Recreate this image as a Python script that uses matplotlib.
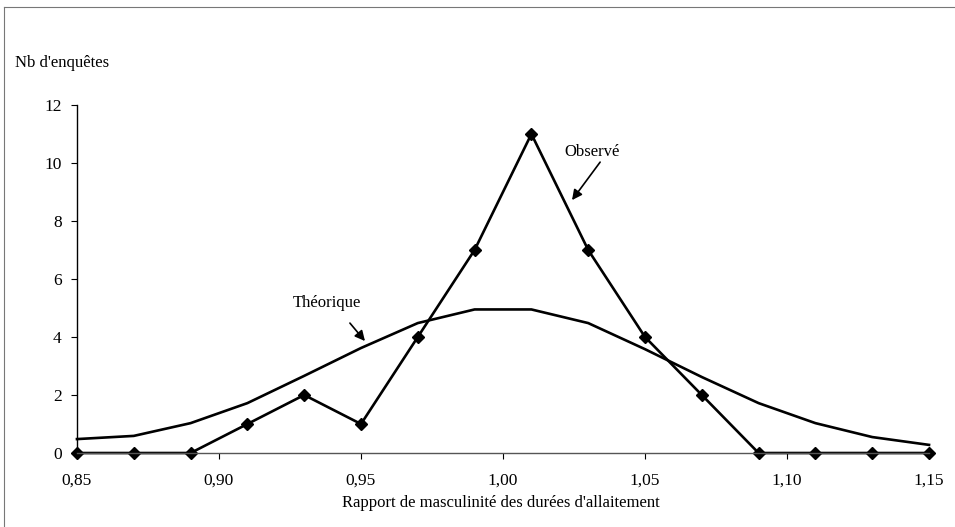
import matplotlib.pyplot as plt
from matplotlib.lines import Line2D
from matplotlib.ticker import FuncFormatter

# rapport de masculinité (classes) et nombres d'enquêtes
rapport = [0.85, 0.87, 0.89, 0.91, 0.93, 0.95, 0.97, 0.99,
           1.01, 1.03, 1.05, 1.07, 1.09, 1.11, 1.13, 1.15]
observe = [0, 0, 0, 1, 2, 1, 4, 7, 11, 7, 4, 2, 0, 0, 0, 0]
theorique = [0.48, 0.59, 1.03, 1.72, 2.66, 3.62, 4.48, 4.95,
             4.95, 4.48, 3.58, 2.62, 1.72, 1.03, 0.55, 0.28]
xticks = [0.85, 0.90, 0.95, 1.00, 1.05, 1.10, 1.15]
yticks = [0, 2, 4, 6, 8, 10, 12]


def main():
    plt.rcParams['font.family'] = ['Liberation Serif', 'DejaVu Serif']
    fig = plt.figure(figsize=(9.55, 5.27), dpi=100)
    ax = fig.add_axes([0.0806, 0.1404, 0.8922, 0.6604])

    ax.plot(rapport, theorique, color='black', lw=1.9, clip_on=False)
    ax.plot(rapport, observe, color='black', lw=1.9, marker='D',
            markersize=6, clip_on=False)

    ax.set_xlim(0.85, 1.15)
    ax.set_ylim(0, 12)
    ax.set_xticks(xticks)
    ax.set_yticks(yticks)
    ax.xaxis.set_major_formatter(FuncFormatter(lambda v, p: f'{v:.2f}'.replace('.', ',')))
    ax.tick_params(axis='both', labelsize=12.5, direction='out', length=4,
                   width=0.8, colors='black')
    ax.tick_params(axis='x', pad=10)
    ax.tick_params(axis='y', pad=7)
    for s in ['top', 'right']:
        ax.spines[s].set_visible(False)
    ax.spines['left'].set_linewidth(1.0)
    ax.spines['bottom'].set_linewidth(1.0)
    ax.spines['bottom'].set_color('#555555')

    # étiquettes et flèches
    ax.text(1.0313, 10.38, 'Observé', ha='center', va='center', fontsize=12)
    ax.annotate('', xy=(1.0243, 8.72), xytext=(1.0342, 10.03),
                arrowprops=dict(arrowstyle='-|>', color='black', lw=1.2,
                                shrinkA=0, shrinkB=0, mutation_scale=15))
    ax.text(0.938, 5.17, 'Théorique', ha='center', va='center', fontsize=12)
    ax.annotate('', xy=(0.9514, 3.86), xytext=(0.9461, 4.48),
                arrowprops=dict(arrowstyle='-|>', color='black', lw=1.2,
                                shrinkA=0, shrinkB=0, mutation_scale=15))

    fig.text(0.0157, 0.880, "Nb d'enquêtes", fontsize=12, ha='left', va='center')
    fig.text(0.524, 0.0455, "Rapport de masculinité des durées d'allaitement",
             fontsize=12, ha='center', va='center')

    # cadre de la figure (gauche et haut)
    fig.add_artist(Line2D([0.004, 0.004], [0.0, 0.987], color='#777777', lw=0.8))
    fig.add_artist(Line2D([0.004, 1.0], [0.987, 0.987], color='#777777', lw=0.8))

    fig.savefig('out.png', dpi=100)


if __name__ == '__main__':
    main()
